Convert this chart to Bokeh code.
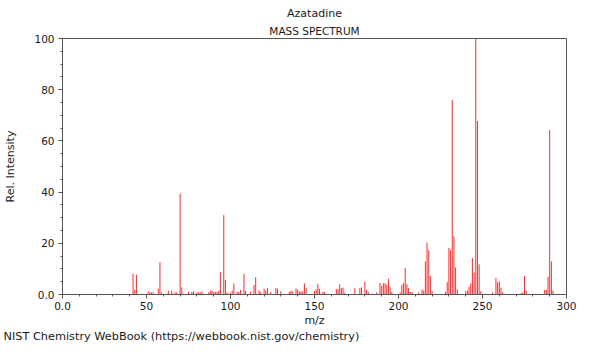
from bokeh.plotting import figure
from bokeh.models import FixedTicker, Range1d, Title
from bokeh.embed import file_html
from bokeh.resources import INLINE

# m/z values and relative intensities
mz = [42, 43, 44, 51, 52, 53, 54, 57, 58, 59, 63, 65, 67, 68, 70, 71, 75, 77, 78,
      80, 81, 82, 83, 87, 88, 89, 90, 91, 92, 93, 94, 96, 97, 98, 100, 101, 102,
      104, 105, 106, 108, 109, 112, 114, 115, 117, 118, 120, 121, 122, 124, 127,
      128, 130, 135, 136, 137, 139, 140, 141, 142, 143, 144, 145, 150, 151, 152,
      153, 155, 156, 163, 164, 165, 166, 167, 168, 174, 177, 178, 180, 181, 182,
      187, 189, 190, 191, 192, 193, 194, 195, 196, 201, 202, 203, 204, 205, 206,
      207, 208, 212, 214, 215, 216, 217, 218, 219, 220, 228, 229, 230, 231, 232,
      233, 234, 235, 240, 241, 242, 243, 244, 245, 246, 247, 248, 249, 256, 258,
      259, 260, 261, 262, 273, 274, 275, 276, 287, 288, 289, 290, 291, 292]
intensity = [8.2, 1.8, 7.7, 1.2, 0.8, 0.8, 0.8, 2.3, 12.6, 0.8, 1.5, 1.5, 0.8, 0.8,
             39.4, 2.8, 1.0, 1.0, 1.2, 0.8, 0.8, 0.8, 1.2, 0.8, 1.5, 1.5, 1.0,
             1.0, 1.0, 1.5, 8.7, 31.0, 5.6, 0.7, 0.7, 1.5, 4.3, 1.0, 1.0, 1.8,
             8.1, 1.5, 1.0, 3.7, 6.8, 1.6, 1.0, 2.3, 1.6, 2.5, 1.0, 2.5, 2.3,
             1.3, 1.0, 1.5, 1.2, 2.3, 1.9, 1.2, 1.2, 1.2, 4.3, 2.5, 1.3, 2.0,
             4.0, 2.2, 1.0, 1.0, 2.1, 2.0, 4.0, 2.5, 2.7, 0.7, 2.5, 2.5, 2.8,
             5.0, 1.8, 1.0, 0.8, 4.5, 3.4, 4.4, 4.4, 3.7, 6.2, 3.0, 1.0, 0.8,
             3.8, 4.4, 10.4, 4.0, 2.5, 1.0, 1.0, 0.8, 2.0, 1.5, 12.9, 20.3,
             17.3, 7.2, 1.3, 1.0, 4.9, 18.2, 17.3, 76.0, 22.7, 10.6, 2.0, 1.3,
             1.6, 3.0, 4.3, 14.3, 8.6, 100.0, 67.8, 11.8, 1.3, 0.8, 6.5, 4.7,
             5.2, 2.7, 0.9, 0.5, 0.8, 7.2, 1.5, 1.8, 1.8, 6.9, 64.3, 12.9, 1.5]

x_ticks = [0, 50, 100, 150, 200, 250, 300]
y_ticks = [0, 20, 40, 60, 80, 100]

title_1 = "Azatadine"
title_2 = "MASS SPECTRUM"
x_label = "m/z"
y_label = "Rel. Intensity"
credit = "NIST Chemistry WebBook (https://webbook.nist.gov/chemistry)"

FONT = "DejaVu Sans"
TXT = "#1a1a1a"
AX = "#555555"

p = figure(width=584, height=344, output_backend="svg", toolbar_location=None,
           x_range=Range1d(0, 300), y_range=Range1d(0, 100),
           min_border_left=62, min_border_right=18, min_border_top=38,
           min_border_bottom=10)

p.segment(x0=mz, y0=[0] * len(mz), x1=mz, y1=intensity,
          line_color="#ff2a2a", line_width=1)

p.xgrid.visible = False
p.ygrid.visible = False
p.outline_line_color = AX
p.outline_line_width = 1
p.background_fill_color = "white"
p.border_fill_color = "white"

p.xaxis.ticker = FixedTicker(ticks=x_ticks,
                             minor_ticks=list(range(0, 301, 10)))
p.yaxis.ticker = FixedTicker(ticks=y_ticks,
                             minor_ticks=list(range(0, 101, 5)))
p.xaxis.major_label_overrides = {0: "0.0"}
p.yaxis.major_label_overrides = {0: "0.0"}

for ax in (p.xaxis, p.yaxis):
    ax.axis_line_color = AX
    ax.major_tick_line_color = AX
    ax.minor_tick_line_color = AX
    ax.major_tick_in = 0
    ax.major_tick_out = 4
    ax.minor_tick_in = 0
    ax.minor_tick_out = 2
    ax.major_label_text_font = FONT
    ax.major_label_text_font_size = "10.5px"
    ax.major_label_text_color = TXT
    ax.axis_label_text_font = FONT
    ax.axis_label_text_font_size = "11px"
    ax.axis_label_text_font_style = "normal"
    ax.axis_label_text_color = TXT

p.xaxis.axis_label = x_label
p.yaxis.axis_label = y_label
p.xaxis.major_label_standoff = 3
p.xaxis.axis_label_standoff = 1
p.yaxis.major_label_standoff = 4
p.yaxis.axis_label_standoff = 14

# two-line title above the frame (the added Title sits nearer the frame)
p.title.text = title_1
p.title.align = "center"
p.title.text_font = FONT
p.title.text_font_size = "11px"
p.title.text_font_style = "normal"
p.title.text_color = TXT
p.title.standoff = 3
p.add_layout(Title(text=title_2, align="center", text_font=FONT,
                   text_font_size="10.5px", text_font_style="normal",
                   text_color=TXT, standoff=3), "above")

# credit line below the axis, pulled to the left edge of the canvas
p.add_layout(Title(text=credit, align="left", offset=-59, text_font=FONT,
                   text_font_size="11.3px", text_font_style="normal",
                   text_color=TXT, standoff=0, vertical_align="top"), "below")

open("out.html", "w").write(file_html(p, INLINE))
